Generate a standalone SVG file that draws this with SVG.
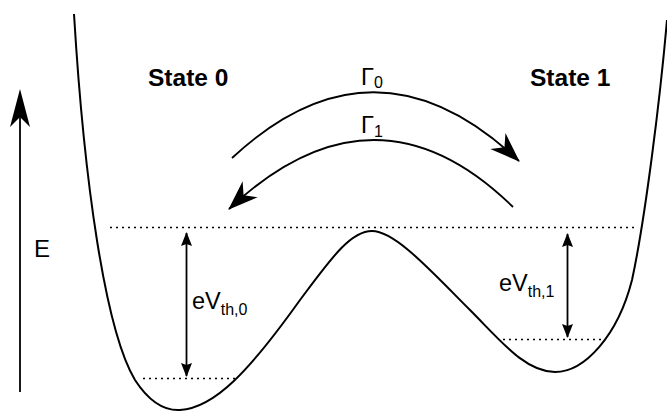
<svg xmlns="http://www.w3.org/2000/svg" width="667" height="412" viewBox="0 0 667 412">
<style>
text{font-family:"Liberation Sans",Arial,sans-serif;fill:#000}
.bold{font-weight:bold;font-size:24.5px}
.lbl{font-size:23.5px}
.sub{font-size:16px}
.curve{fill:none;stroke:#000;stroke-width:2}
.dot{fill:none;stroke:#000;stroke-width:1.6;stroke-dasharray:2 4}
.arr{fill:none;stroke:#000;stroke-width:1.8}
</style>
<defs>
<marker id="stealth" viewBox="-31 -12 33 24" refX="0" refY="0" markerWidth="33" markerHeight="24" markerUnits="userSpaceOnUse" orient="auto">
<path d="M1,0 L-29,-11 L-20,0 L-29,11 Z" fill="#000"/>
</marker>
<marker id="small" viewBox="-14 -6 15 12" refX="0" refY="0" markerWidth="15" markerHeight="12" markerUnits="userSpaceOnUse" orient="auto-start-reverse">
<path d="M1,0 L-13,-5.5 L-11,0 L-13,5.5 Z" fill="#000"/>
</marker>
</defs>
<g id="potential">
<path class="curve" d="M74,14 C84,180 105,330 135,380 C148,400 162,411 180,410 C215,408 250,370 300,300 C330,260 350,231 372,231 C395,231 430,270 470,310 C500,340 525,372 555,372 C585,372 618,335 632,280 C645,220 660,100 667,20"/>
</g>
<g id="levels">
<line class="dot" x1="110" y1="227.5" x2="638" y2="227.5"/>
<line class="dot" x1="143" y1="378.5" x2="236" y2="378.5"/>
<line class="dot" x1="503" y1="339.5" x2="602" y2="339.5"/>
</g>
<g id="energy-axis">
<line class="arr" x1="20" y1="392" x2="20" y2="110"/>
<path d="M20,89 L30,127 L20,117 L10,127 Z" fill="#000"/>
<text class="lbl" x="34" y="257" style="font-size:24px">E</text>
</g>
<g id="state0">
<text class="bold" x="148" y="86">State 0</text>
</g>
<g id="state1">
<text class="bold" x="530" y="86">State 1</text>
</g>
<g id="connectors">
<path class="arr" d="M232,158 Q375,25 519,161" marker-end="url(#stealth)"/>
<path class="arr" d="M513,207 Q375,72 229,209" marker-end="url(#stealth)"/>
<line class="arr" x1="186.5" y1="233" x2="186.5" y2="376" marker-start="url(#small)" marker-end="url(#small)"/>
<line class="arr" x1="567.5" y1="234" x2="567.5" y2="337" marker-start="url(#small)" marker-end="url(#small)"/>
</g>
<g id="labels">
<text class="lbl" x="361" y="84.5">Γ<tspan class="sub" dy="3">0</tspan></text>
<text class="lbl" x="361" y="132.5">Γ<tspan class="sub" dy="4">1</tspan></text>
<text class="lbl" x="192" y="309">eV<tspan class="sub" dy="6">th,0</tspan></text>
<text class="lbl" x="499" y="291">eV<tspan class="sub" dy="6">th,1</tspan></text>
</g>
</svg>
